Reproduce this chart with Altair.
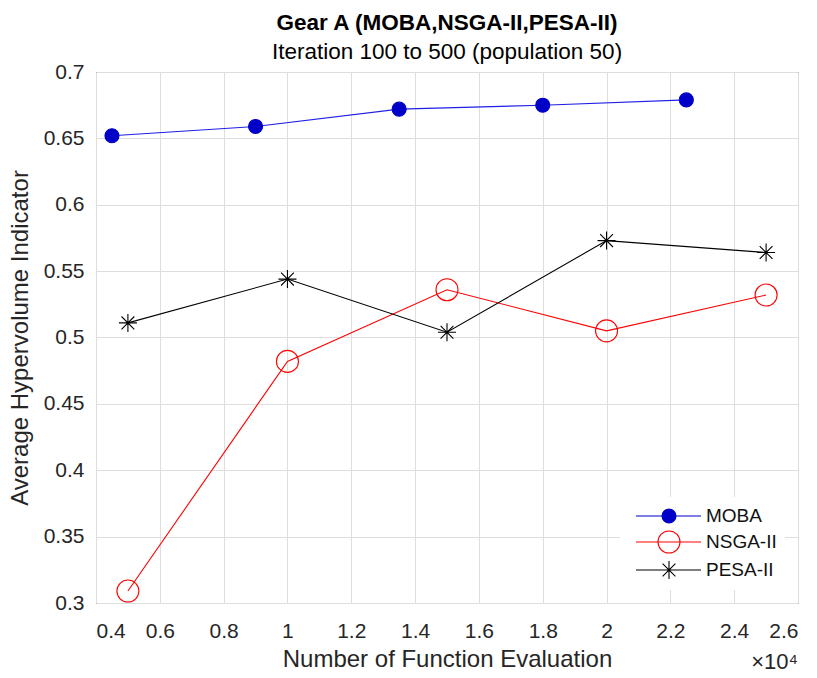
import altair as alt
import pandas as pd

# ---- data ----
series_names = ["MOBA", "NSGA-II", "PESA-II"]
moba_x = [4500, 9000, 13500, 18000, 22500]
moba_y = [0.652, 0.659, 0.672, 0.675, 0.679]
nsga_x = [5000, 10000, 15000, 20000, 25000]
nsga_y = [0.309, 0.482, 0.536, 0.505, 0.532]
pesa_x = [5000, 10000, 15000, 20000, 25000]
pesa_y = [0.511, 0.544, 0.504, 0.573, 0.564]

x_ticks = [4000, 6000, 8000, 10000, 12000, 14000, 16000, 18000, 20000, 22000, 24000, 26000]
y_ticks = [0.3, 0.35, 0.4, 0.45, 0.5, 0.55, 0.6, 0.65, 0.7]

rows = []
for name, xs, ys in [("MOBA", moba_x, moba_y), ("NSGA-II", nsga_x, nsga_y), ("PESA-II", pesa_x, pesa_y)]:
    for xv, yv in zip(xs, ys):
        rows.append({"series": name, "x": xv, "y": yv})
df = pd.DataFrame(rows)

# ---- styles ----
FONT = "Liberation Sans"
TXT = "#262626"
line_colors = ["#1f1fe6", "#ff0000", "#000000"]
mark_colors = ["#0000c8", "#ff0000", "#000000"]
fill_colors = ["#0000c8", "transparent", "transparent"]

circ_s = "M0.7,0A0.7,0.7,0,1,1,-0.7,0A0.7,0.7,0,1,1,0.7,0Z"
circ_l = "M1.1,0A1.1,1.1,0,1,1,-1.1,0A1.1,1.1,0,1,1,1.1,0Z"
star = "M-0.9,0H0.9M0,-0.9V0.9M-0.64,-0.64L0.64,0.64M-0.64,0.64L0.64,-0.64"
plot_shapes = [circ_s, circ_l, star]
seg = "M-3.3,0H3.2"
legend_shapes = [seg + circ_s, seg + circ_l, seg + star]

xenc = alt.X("x:Q", scale=alt.Scale(domain=[4000, 26000], nice=False),
             axis=alt.Axis(values=x_ticks, labelExpr="datum.value / 10000",
                           title="Number of Function Evaluation", labelPadding=17,
                           titlePadding=6))
yenc = alt.Y("y:Q", scale=alt.Scale(domain=[0.3, 0.7], nice=False, zero=False),
             axis=alt.Axis(values=y_ticks, labelExpr="format(datum.value, '.2~f')",
                           title="Average Hypervolume Indicator", labelPadding=12,
                           titlePadding=11))

lines = alt.Chart(df).mark_line(strokeWidth=1.1).encode(
    x=xenc, y=yenc,
    stroke=alt.Stroke("series:N", scale=alt.Scale(domain=series_names, range=line_colors), legend=None),
    detail="series:N",
)

points = alt.Chart(df).mark_point(size=400, strokeWidth=1.1, opacity=1).encode(
    x=xenc, y=yenc,
    stroke=alt.Stroke("series:N", scale=alt.Scale(domain=series_names, range=mark_colors), legend=None),
    fill=alt.Fill("series:N", scale=alt.Scale(domain=series_names, range=fill_colors), legend=None),
    shape=alt.Shape("series:N", scale=alt.Scale(domain=series_names, range=plot_shapes), legend=None),
)

leg = alt.Legend(title=None, orient="bottom-right", offset=13, padding=8,
                 fillColor="white", symbolSize=400, symbolOffset=30, labelOffset=26,
                 symbolStrokeWidth=1.1, labelFontSize=19, labelFont=FONT,
                 labelColor="#111111", rowPadding=2)

legend_layer = alt.Chart(df).transform_filter("datum.x < 0").mark_point(
    size=400, strokeWidth=1.1, opacity=1).encode(
    stroke=alt.Stroke("series:N", scale=alt.Scale(domain=series_names, range=mark_colors), legend=leg),
    fill=alt.Fill("series:N", scale=alt.Scale(domain=series_names, range=fill_colors), legend=leg),
    shape=alt.Shape("series:N", scale=alt.Scale(domain=series_names, range=legend_shapes), legend=leg),
)

exponent = alt.Chart(pd.DataFrame({"t": ["×10⁴"]})).mark_text(
    align="right", baseline="middle", font=FONT, fontSize=22, color=TXT
).encode(text="t:N", x=alt.value(702), y=alt.value(590))

chart = alt.layer(lines, points, legend_layer, exponent).resolve_scale(
    stroke="independent", fill="independent", shape="independent"
).properties(
    width=702, height=531,
    background="white",
    padding={"left": 96, "top": 72, "right": 19, "bottom": 75},
    autosize=alt.AutoSizeParams(type="none"),
    title=alt.TitleParams(
        text="Gear A (MOBA,NSGA-II,PESA-II)",
        subtitle="Iteration 100 to 500 (population 50)",
        font=FONT, fontSize=22.5, fontWeight="bold", color="#000000",
        subtitleFont=FONT, subtitleFontSize=22.5, subtitleColor="#000000",
        anchor="middle", frame="group", offset=-2, subtitlePadding=6,
    ),
).configure_view(
    stroke=TXT, strokeWidth=1
).configure_axis(
    grid=True, gridColor="#dedede", gridWidth=1, domain=False, ticks=False,
    labelFont=FONT, labelFontSize=21, labelColor=TXT,
    titleFont=FONT, titleFontSize=24, titleColor=TXT, titleFontWeight="normal",
)

chart.save("out.html", embed_options={"renderer": "svg", "actions": False})
